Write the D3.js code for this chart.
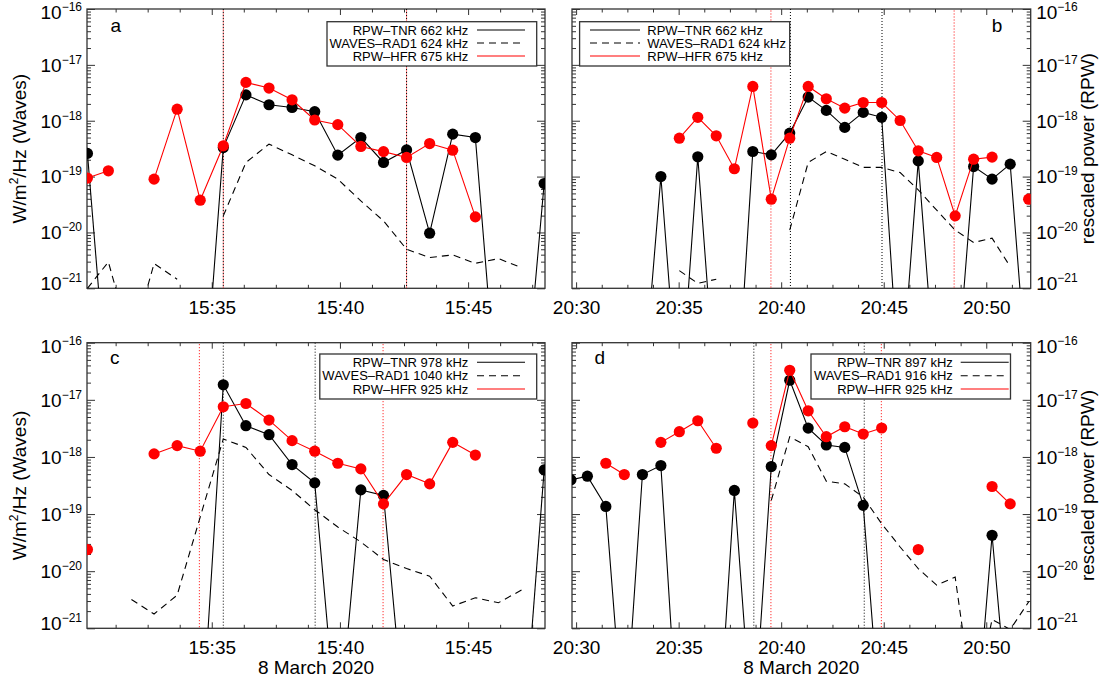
<!DOCTYPE html>
<html><head><meta charset="utf-8">
<script src="https://cdn.jsdelivr.net/npm/d3@7"></script>
<style>
body{margin:0;background:#fff;}
svg{display:block;font-family:"Liberation Sans",Arial,Helvetica,sans-serif;}
</style></head><body>
<svg id="chart" width="1104" height="684"></svg>
<script>
// ---------- DATA ----------
// sample times (UT, 8 March 2020), panels a & c
const timesAC = ["15:30:09","15:30:58","15:31:52","15:32:45","15:33:39","15:34:33","15:35:27","15:36:20","15:37:14","15:38:08","15:39:01","15:39:55","15:40:49","15:41:42","15:42:36","15:43:30","15:44:24","15:45:17","15:46:11","15:47:05","15:47:58"];
// sample times, panels b & d
const timesBD = ["20:29:45","20:30:33","20:31:27","20:32:21","20:33:14","20:34:08","20:35:02","20:35:56","20:36:50","20:37:43","20:38:37","20:39:31","20:40:25","20:41:19","20:42:12","20:43:06","20:44:00","20:44:54","20:45:48","20:46:41","20:47:35","20:48:29","20:49:23","20:50:17","20:51:10","20:52:04"];

// panel a
const tnrA  = [2.6e-19,7e-24,null,null,null,1.1e-24,3.3e-19,2.9e-18,1.93e-18,1.73e-18,1.45e-18,2.42e-19,5.0e-19,1.79e-19,3.0e-19,9.7e-21,5.75e-19,5.0e-19,4.2e-24,2e-24,7.5e-20];
const rad1A = [1.0e-21,2.96e-21,1e-22,2.77e-21,1.45e-21,null,1.98e-20,1.79e-19,3.81e-19,2.45e-19,1.56e-19,8.97e-20,3.67e-20,1.61e-20,5.0e-21,3.55e-21,3.96e-21,2.8e-21,3.4e-21,2.34e-21,null];
const hfrA  = [9.4e-20,1.27e-19,null,9.0e-20,1.61e-18,3.78e-20,3.56e-19,4.85e-18,3.84e-18,2.37e-18,1.03e-18,8.5e-19,3.46e-19,2.8e-19,2.2e-19,3.9e-19,2.97e-19,1.9e-20,null,null,null];
// panel b
const tnrB  = [null,null,null,null,1e-23,1.0e-19,5e-24,2.26e-19,8e-24,1.5e-24,2.81e-19,2.45e-19,6.0e-19,2.65e-18,1.53e-18,7.6e-19,1.41e-18,1.15e-18,1e-23,1.91e-19,1e-23,1e-23,1.51e-19,9.0e-20,1.67e-19,1e-23];
const rad1B = [null,null,null,null,null,null,2.07e-21,1.23e-21,1.45e-21,null,null,null,1.1e-20,1.79e-19,2.81e-19,2.05e-19,1.46e-19,1.46e-19,1.18e-19,5.8e-20,2.5e-20,1.1e-20,6.6e-21,7.9e-21,2.45e-21,null];
const hfrB  = [null,null,null,null,null,null,4.87e-19,1.15e-18,5.37e-19,1.38e-19,4.11e-18,3.94e-20,4.87e-19,4.11e-18,2.47e-18,1.68e-18,2.12e-18,2.12e-18,1.01e-18,2.89e-19,2.2e-19,1.98e-20,2.05e-19,2.23e-19,null,3.94e-20];
// panel c
const tnrC  = [null,null,null,null,null,6e-24,1.83e-17,3.52e-18,2.45e-18,7.35e-19,3.52e-19,1e-23,2.65e-19,2.12e-19,9e-24,null,null,null,null,4e-24,5.93e-19];
const rad1C = [null,null,3.2e-21,1.78e-21,3.81e-21,8.87e-20,2.06e-18,1.47e-18,4.92e-19,2.59e-19,1.19e-19,5.93e-20,3.25e-20,1.6e-20,1.11e-20,8.2e-21,2.45e-21,3.43e-21,2.8e-21,4.67e-21,null];
const hfrC  = [2.39e-20,null,null,1.13e-18,1.58e-18,1.26e-18,7.55e-18,8.63e-18,4.42e-18,1.93e-18,1.26e-18,7.76e-19,6.18e-19,1.51e-19,4.92e-19,3.38e-19,1.8e-18,1.08e-18,null,null,null];
// panel d
const tnrD  = [3.97e-19,4.6e-19,1.36e-19,1e-23,4.92e-19,7.06e-19,5e-24,null,3e-24,2.59e-19,1e-23,6.78e-19,2.2e-17,3.2e-18,1.62e-18,1.47e-18,1.42e-19,1e-23,null,null,null,null,5e-24,4.25e-20,1.2e-23,null];
const rad1D = [null,null,null,null,null,null,null,null,null,null,null,1.73e-19,2.26e-18,1.51e-18,3.76e-19,3.38e-19,1.98e-19,6.78e-20,2.65e-20,1.11e-20,5.7e-21,7.9e-21,4e-23,1.43e-21,9.5e-22,2.9e-21];
const hfrD  = [null,null,7.76e-19,4.92e-19,null,1.8e-18,2.77e-18,4.3e-18,1.42e-18,null,3.92e-18,1.58e-18,3.29e-17,6.43e-18,2.26e-18,3.38e-18,2.52e-18,3.21e-18,null,2.39e-20,null,null,null,3.04e-19,1.51e-19,null];
// HFR samples after which the plotted line is interrupted
const hfrBreaksD = ["20:38:37"];

// vertical dotted markers
const markBlackA = ["15:35:27","15:42:36"], markRedA = ["15:35:27","15:42:36"];
const markBlackB = ["20:40:27","20:44:55"], markRedB = ["20:39:30","20:48:26"];
const markBlackC = ["15:35:27","15:39:02"], markRedC = ["15:34:31","15:41:41"];
const markBlackD = ["20:38:40","20:44:03"], markRedD = ["20:39:30","20:44:53"];

// legends
const legendA = ["RPW–TNR 662 kHz","WAVES–RAD1 624 kHz","RPW–HFR 675 kHz"];
const legendB = ["RPW–TNR 662 kHz","WAVES–RAD1 624 kHz","RPW–HFR 675 kHz"];
const legendC = ["RPW–TNR 978 kHz","WAVES–RAD1 1040 kHz","RPW–HFR 925 kHz"];
const legendD = ["RPW–TNR 897 kHz","WAVES–RAD1 916 kHz","RPW–HFR 925 kHz"];

// axes
const domainAC = ["15:30:08","15:48:00"], domainBD = ["20:29:48","20:52:10"];
const majorsAC = ["15:35","15:40","15:45"], majorsBD = ["20:30","20:35","20:40","20:45","20:50"];
const yDecades = [1e-21,1e-20,1e-19,1e-18,1e-17,1e-16];
const xTitle = "8 March 2020";
const yTitleLeft = ["W/m","2","/Hz (Waves)"];
const yTitleRight = "rescaled power (RPW)";

// ---------- LAYOUT ----------
const parseT = s => { const [h,m,sec] = s.split(":").map(Number); return new Date(Date.UTC(2020,2,8,h,m,sec||0)); };
const RED = "#ff0000";
const panels = [
 {id:"a", box:[87,9,545,288.3], times:timesAC, tnr:tnrA, rad1:rad1A, hfr:hfrA, breaks:[], domain:domainAC, majors:majorsAC,
  mb:markBlackA, mr:markRedA, legend:legendA, yLab:"left", xTitle:false, label:[115.7,31.8],
  leg:{box:[327,21.7,536.7,66], anchor:"end", tx:468.3, l0:477, l1:525, rows:[30,43,56]}},
 {id:"b", box:[572,9,1030.7,288.3], times:timesBD, tnr:tnrB, rad1:rad1B, hfr:hfrB, breaks:[], domain:domainBD, majors:majorsBD,
  mb:markBlackB, mr:markRedB, legend:legendB, yLab:"right", xTitle:false, label:[997,32.2],
  leg:{box:[579.6,21.7,789.7,66], anchor:"start", tx:647.3, l0:590, l1:640, rows:[30,43,56]}},
 {id:"c", box:[87,342.7,545,628.3], times:timesAC, tnr:tnrC, rad1:rad1C, hfr:hfrC, breaks:[], domain:domainAC, majors:majorsAC,
  mb:markBlackC, mr:markRedC, legend:legendC, yLab:"left", xTitle:true, label:[114.7,364],
  leg:{box:[319.8,354,536.7,399], anchor:"end", tx:468.3, l0:477, l1:525, rows:[362.3,375.7,389]}},
 {id:"d", box:[572,342.7,1030.7,628.3], times:timesBD, tnr:tnrD, rad1:rad1D, hfr:hfrD, breaks:hfrBreaksD, domain:domainBD, majors:majorsBD,
  mb:markBlackD, mr:markRedD, legend:legendD, yLab:"right", xTitle:true, label:[599.9,364],
  leg:{box:[811,354,1010.5,399], anchor:"end", tx:952.8, l0:960.7, l1:1008.7, rows:[362.3,375.7,389]}}
];

const svg = d3.select("#chart");
const AX = "#333";

function styleAxis(sel){
  sel.attr("font-size",19).attr("font-family",null).attr("color","#000");
  sel.select(".domain").remove();
  sel.selectAll("line").attr("stroke",AX).attr("stroke-width",1);
}

panels.forEach(p => {
  const [x0,y0,x1,y1] = p.box;
  const x = d3.scaleUtc().domain(p.domain.map(parseT)).range([x0,x1]);
  const y = d3.scaleLog().domain([1e-21,1e-16]).range([y1,y0]);
  const g = svg.append("g");
  const clipId = "clip-"+p.id;
  svg.append("defs").append("clipPath").attr("id",clipId)
     .append("rect").attr("x",x0).attr("y",y0).attr("width",x1-x0).attr("height",y1-y0);

  // x ticks
  const majors = p.majors.map(s => parseT(s+":00"));
  const dom = x.domain(), step = 75000, anchor = +majors[0];
  const first = anchor - Math.floor((anchor - +dom[0]) / step) * step;
  const minors = d3.range(first, +dom[1] + 1, step).map(t => new Date(t))
                   .filter(t => !majors.some(m => +m === +t));
  g.append("g").attr("transform",`translate(0,${y1})`)
   .call(d3.axisBottom(x).tickValues(majors).tickSizeInner(-6).tickSizeOuter(0).tickPadding(12).tickFormat(d3.utcFormat("%H:%M")))
   .call(styleAxis);
  g.append("g").attr("transform",`translate(0,${y1})`)
   .call(d3.axisBottom(x).tickValues(minors).tickSizeInner(-3.5).tickSizeOuter(0).tickFormat(""))
   .call(styleAxis);
  g.append("g").attr("transform",`translate(0,${y0})`)
   .call(d3.axisTop(x).tickValues(majors).tickSizeInner(-6).tickSizeOuter(0).tickFormat(""))
   .call(styleAxis);
  g.append("g").attr("transform",`translate(0,${y0})`)
   .call(d3.axisTop(x).tickValues(minors).tickSizeInner(-3.5).tickSizeOuter(0).tickFormat(""))
   .call(styleAxis);

  // y ticks
  const yMinor = [];
  yDecades.slice(0,-1).forEach(d => { for (let k=2;k<=9;k++) yMinor.push(d*k); });
  [[d3.axisLeft,x0],[d3.axisRight,x1]].forEach(([ax,xp]) => {
    g.append("g").attr("transform",`translate(${xp},0)`)
     .call(ax(y).tickValues(yDecades).tickSizeInner(-8).tickSizeOuter(0).tickFormat(""))
     .call(styleAxis);
    g.append("g").attr("transform",`translate(${xp},0)`)
     .call(ax(y).tickValues(yMinor).tickSizeInner(-4).tickSizeOuter(0).tickFormat(""))
     .call(styleAxis);
  });

  // y labels (10^n)
  const lab = g.append("g").attr("font-size",19).attr("fill","#000");
  yDecades.forEach(v => {
    const e = Math.round(Math.log10(v));
    const cy = Math.max(y0+3.5, Math.min(y1-5, y(v)));
    const t = lab.append("text")
      .attr("x", p.yLab==="left" ? x0-5 : x1+5.5)
      .attr("y", cy + 6.8)
      .attr("text-anchor", p.yLab==="left" ? "end" : "start");
    t.append("tspan").text("10");
    t.append("tspan").attr("font-size",12).attr("dy",-8).text("−"+Math.abs(e));
  });

  // frame
  g.append("rect").attr("x",x0).attr("y",y0).attr("width",x1-x0).attr("height",y1-y0)
   .attr("fill","none").attr("stroke",AX).attr("stroke-width",1.3);

  // axis titles
  const cyMid = (y0+y1)/2;
  if (p.yLab==="left") {
    const t = svg.append("text").attr("transform",`translate(26,${cyMid}) rotate(-90)`)
      .attr("text-anchor","middle").attr("font-size",19);
    t.append("tspan").text(yTitleLeft[0]);
    t.append("tspan").attr("font-size",12).attr("dy",-8).text(yTitleLeft[1]);
    t.append("tspan").attr("dy",8).text(yTitleLeft[2]);
  } else {
    svg.append("text").attr("transform",`translate(1094,${cyMid}) rotate(-90)`)
      .attr("text-anchor","middle").attr("font-size",19).text(yTitleRight);
  }
  if (p.xTitle) {
    svg.append("text").attr("x",(x0+x1)/2).attr("y",673.5).attr("text-anchor","middle")
      .attr("font-size",19).text(xTitle);
  }
  // panel letter
  svg.append("text").attr("x",p.label[0]).attr("y",p.label[1]).attr("text-anchor","middle")
     .attr("font-size",19).text(p.id);

  // plot contents
  const pc = svg.append("g").attr("clip-path",`url(#${clipId})`);
  // dotted markers
  p.mb.forEach(s => pc.append("line").attr("x1",x(parseT(s))).attr("x2",x(parseT(s)))
      .attr("y1",y0).attr("y2",y1).attr("stroke","#000").attr("stroke-width",1).attr("stroke-dasharray","1,2"));
  p.mr.forEach(s => pc.append("line").attr("x1",x(parseT(s))).attr("x2",x(parseT(s)))
      .attr("y1",y0).attr("y2",y1).attr("stroke",RED).attr("stroke-width",1).attr("stroke-dasharray","1,2").attr("stroke-dashoffset",1.5));

  const pts = p.times.map((t,i) => ({t:parseT(t), tnr:p.tnr[i], rad1:p.rad1[i], hfr:p.hfr[i], brk:p.breaks.includes(t)}));
  // split a series into connected runs (null values or explicit breaks end a run)
  const runs = key => {
    const out = []; let cur = [];
    pts.forEach(d => {
      if (d[key] == null) { if (cur.length) out.push(cur); cur = []; return; }
      cur.push(d);
      if (key === "hfr" && d.brk) { out.push(cur); cur = []; }
    });
    if (cur.length) out.push(cur);
    return out;
  };
  const line = key => d3.line().x(d => x(d.t)).y(d => y(d[key]));

  pc.selectAll(null).data(runs("tnr")).join("path").attr("d",line("tnr"))
    .attr("fill","none").attr("stroke","#000").attr("stroke-width",1.1);
  pc.selectAll(null).data(pts.filter(d => d.tnr != null)).join("circle")
    .attr("cx",d => x(d.t)).attr("cy",d => y(d.tnr)).attr("r",5.6).attr("fill","#000");
  pc.selectAll(null).data(runs("rad1")).join("path").attr("d",line("rad1"))
    .attr("fill","none").attr("stroke","#000").attr("stroke-width",1.1).attr("stroke-dasharray","7,5");
  pc.selectAll(null).data(runs("hfr")).join("path").attr("d",line("hfr"))
    .attr("fill","none").attr("stroke",RED).attr("stroke-width",1.1);
  pc.selectAll(null).data(pts.filter(d => d.hfr != null)).join("circle")
    .attr("cx",d => x(d.t)).attr("cy",d => y(d.hfr)).attr("r",5.6).attr("fill",RED);

  // legend
  const L = p.leg, lg = svg.append("g");
  lg.append("rect").attr("x",L.box[0]).attr("y",L.box[1]).attr("width",L.box[2]-L.box[0]).attr("height",L.box[3]-L.box[1])
    .attr("fill","#fff").attr("stroke",AX).attr("stroke-width",1.3);
  const styles = [{c:"#000",d:null},{c:"#000",d:"7,5"},{c:RED,d:null}];
  p.legend.forEach((txt,i) => {
    lg.append("text").attr("x",L.tx).attr("y",L.rows[i]+4.7).attr("text-anchor",L.anchor)
      .attr("font-size",13).attr("fill","#000").text(txt);
    lg.append("line").attr("x1",L.l0).attr("x2",L.l1).attr("y1",L.rows[i]).attr("y2",L.rows[i])
      .attr("stroke",styles[i].c).attr("stroke-width",1.1).attr("stroke-dasharray",styles[i].d);
  });
});
</script>
</body></html>
